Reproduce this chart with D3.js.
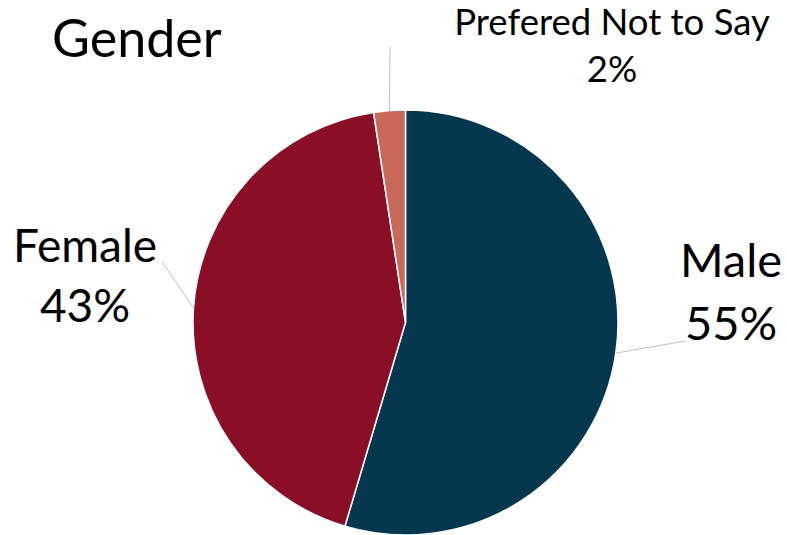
<!DOCTYPE html>
<html>
<head>
<meta charset="utf-8">
<script src="https://cdn.jsdelivr.net/npm/d3@7"></script>
<style>
  html, body { margin: 0; padding: 0; background: #fff; }
  svg { display: block; }
  text { font-family: Lato, "Open Sans", sans-serif; fill: #000; }
</style>
</head>
<body>
<svg id="chart" width="787" height="535"></svg>
<script>
const title = "Gender";
const categories = ["Male", "Female", "Prefered Not to Say"];
const values = [54.6, 43.0, 2.4];
const percentLabels = ["55%", "43%", "2%"];
const colors = ["#05374F", "#8A0E25", "#C8695A"];

const W = 787, H = 535;
const cx = 405.5, cy = 322.5, R = 212.5;

const svg = d3.select("#chart");

svg.append("text")
  .attr("x", 52).attr("y", 57)
  .attr("font-size", 52)
  .text(title);

const pie = d3.pie().sort(null).value(d => d)(values);
const arc = d3.arc().innerRadius(0).outerRadius(R);

const g = svg.append("g").attr("transform", `translate(${cx},${cy})`);
g.selectAll("path").data(pie).join("path")
  .attr("d", arc)
  .attr("fill", (d, i) => colors[i])
  .attr("stroke", "#fff")
  .attr("stroke-width", 1.5);

// label configuration (anchor positions relative to page)
const labelCfg = [
  { x: 731, y1: 277, y2: 340, size: 47, lineEnd: [685, 341] },
  { x: 85, y1: 262, y2: 322, size: 46, lineEnd: [162, 262] },
  { x: 612, y1: 35, y2: 82, size: 36.5, lineEnd: [390, 47] }
];

pie.forEach((d, i) => {
  const c = labelCfg[i];
  const mid = (d.startAngle + d.endAngle) / 2;
  const px = cx + R * Math.sin(mid), py = cy - R * Math.cos(mid);
  svg.append("line")
    .attr("x1", px).attr("y1", py)
    .attr("x2", c.lineEnd[0]).attr("y2", c.lineEnd[1])
    .attr("stroke", "#BFBFBF").attr("stroke-width", 1);
  const t = svg.append("text").attr("text-anchor", "middle").attr("font-size", c.size);
  t.append("tspan").attr("x", c.x).attr("y", c.y1).text(categories[i]);
  t.append("tspan").attr("x", c.x).attr("y", c.y2).text(percentLabels[i]);
});
</script>
</body>
</html>
